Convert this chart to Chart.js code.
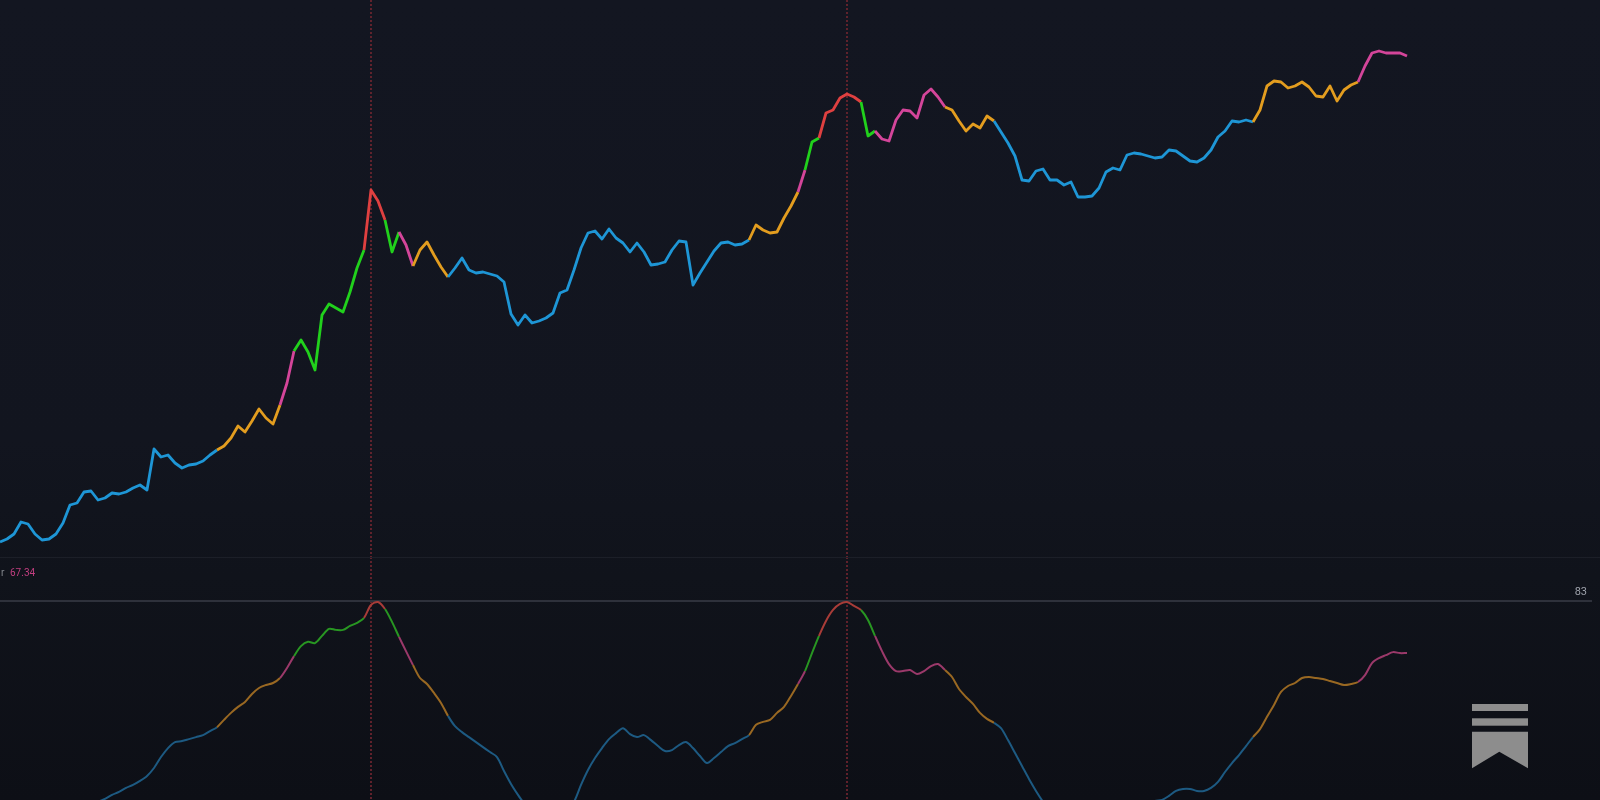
<!DOCTYPE html>
<html>
<head>
<meta charset="utf-8">
<title>Cycle oscillator</title>
<script src="https://cdn.jsdelivr.net/npm/chart.js@4.4.1/dist/chart.umd.min.js"></script>
<style>
  html, body { margin: 0; padding: 0; }
  body {
    width: 1600px; height: 800px; overflow: hidden; position: relative;
    background: linear-gradient(to bottom, #131621 0%, #12151f 55%, #10131b 72%, #0d0f16 100%);
  }
  #priceBox { position: absolute; left: 0; top: 0; width: 1600px; height: 557px; }
  #oscBox { position: absolute; left: 0; top: 557px; width: 1600px; height: 243px; }
  #logo { position: absolute; left: 1472px; top: 704px; }
</style>
</head>
<body>
<div id="priceBox"><canvas id="priceChart" width="1600" height="557"></canvas></div>
<div id="oscBox"><canvas id="oscChart" width="1600" height="243"></canvas></div>
<svg id="logo" width="56" height="65" viewBox="0 0 56 65">
  <rect x="0" y="0" width="56" height="7" fill="#8d8d8d"/>
  <rect x="0" y="14.3" width="56" height="7.4" fill="#8d8d8d"/>
  <path d="M0 27.7 H56 V64.3 L27.3 47.7 L0 64.3 Z" fill="#8d8d8d"/>
</svg>
<script>
// weekly price index (height units)
const priceIdx = [
  18, 21, 26, 38, 36, 26, 20, 21, 26, 37, 55, 57, 68, 69, 60, 62, 67, 66, 68, 72,
  75, 70, 111, 103, 105, 97, 92, 95, 96, 99, 105, 110, 114, 122, 134, 128, 139, 151, 142, 136,
  155, 177, 209, 220, 208, 190, 245, 256, 252, 248, 268, 292, 310, 370, 359, 340, 308, 328, 315, 294,
  310, 318, 305, 293, 283, 292, 302, 290, 287, 288, 286, 284, 278, 246, 235, 245, 237, 239, 242, 247,
  267, 270, 290, 312, 327, 329, 321, 331, 322, 317, 308, 317, 308, 295, 296, 298, 310, 319, 318, 275,
  287, 298, 309, 317, 318, 315, 316, 320, 335, 330, 327, 328, 342, 354, 368, 390, 418, 422, 447, 450,
  462, 466, 463, 458, 424, 429, 421, 419, 440, 450, 449, 442, 465, 471, 463, 453, 450, 439, 429, 436,
  432, 444, 439, 428, 417, 404, 380, 379, 389, 391, 380, 380, 375, 378, 363, 363, 364, 372, 388, 392,
  390, 405, 407, 406, 404, 402, 403, 410, 409, 404, 399, 398, 402, 410, 423, 429, 439, 438, 440, 438,
  450, 474, 479, 478, 472, 474, 478, 473, 464, 463, 474, 459, 470, 475, 478, 494, 507, 509, 507, 507,
  507, 504
];

// cycle oscillator, same weeks
const oscValue = [
  6.5, 7.4, 8.0, 8.6, 9.2, 10.1, 11.0, 12.2, 13.4, 14.9, 16.4, 18.2, 19.7, 21.3, 22.5, 23.4, 24.6, 25.5, 26.7, 27.6,
  28.8, 30.3, 32.7, 36.0, 38.7, 40.5, 40.8, 41.4, 42.0, 42.6, 43.8, 45.0, 47.2, 49.3, 51.1, 52.6, 55.0, 56.8, 57.7, 58.3,
  59.8, 62.8, 66.4, 69.4, 70.7, 70.3, 72.5, 74.6, 74.3, 74.3, 75.5, 76.4, 77.9, 81.8, 82.7, 80.6, 76.7, 72.2, 67.9, 63.7,
  59.8, 58.0, 55.3, 52.3, 48.4, 45.3, 43.5, 42.0, 40.5, 39.0, 37.5, 36.0, 31.8, 27.9, 24.6, 21.6, 18.5, 16.4, 15.5, 16.1,
  17.6, 20.0, 22.5, 27.6, 32.1, 35.7, 38.7, 41.4, 43.2, 44.7, 42.9, 42.0, 42.6, 41.1, 39.3, 37.8, 38.1, 39.6, 40.5, 38.7,
  36.3, 34.2, 35.7, 37.5, 39.3, 40.2, 41.4, 42.6, 45.7, 46.6, 47.2, 49.3, 51.1, 54.4, 58.0, 61.9, 67.3, 72.5, 77.0, 80.3,
  82.1, 82.7, 81.5, 80.3, 77.3, 72.5, 67.9, 64.0, 61.9, 61.9, 62.2, 61.0, 61.9, 63.4, 64.0, 62.2, 60.1, 56.5, 54.1, 52.0,
  49.3, 47.5, 46.3, 44.7, 41.1, 37.2, 33.3, 29.4, 25.8, 22.5, 19.4, 17.0, 15.2, 14.0, 13.1, 12.8, 12.8, 13.4, 14.3, 15.2,
  16.4, 17.6, 19.1, 20.7, 21.9, 22.8, 23.1, 24.3, 25.8, 26.4, 26.4, 25.8, 25.8, 26.7, 28.5, 31.5, 34.2, 36.6, 39.3, 42.0,
  44.4, 48.1, 51.7, 55.6, 57.4, 58.3, 59.8, 60.1, 59.8, 59.5, 58.9, 58.3, 57.7, 58.0, 58.6, 60.7, 64.3, 65.8, 66.7, 67.6,
  67.3, 67.34
];

// heat zones: week where each zone starts, and its band
const zoneStart = [0, 32, 41, 43, 53, 56, 58, 60, 65, 108, 115, 116, 118, 124, 126, 136, 143, 180, 195];
const zoneBand  = ['cool', 'warm', 'hot', 'ext', 'peak', 'ext', 'hot', 'warm', 'cool', 'warm',
                   'hot', 'ext', 'peak', 'ext', 'hot', 'warm', 'cool', 'warm', 'hot'];

const peakWeeks = [53, 121];
const oscLevel = 83;
const oscLabel = '67.34';

const priceColors = { cool: '#1e96d6', warm: '#e39d1f', hot: '#d4459a', ext: '#21d11c', peak: '#df4040' };
const oscColors   = { cool: '#1d5a82', warm: '#996822', hot: '#9b396a', ext: '#289622', peak: '#a83c38' };

function bandAt(i) {
  let b = zoneBand[0];
  for (let k = 0; k < zoneStart.length; k++) {
    if (i >= zoneStart[k]) b = zoneBand[k];
  }
  return b;
}

// dotted verticals at the two cycle tops
const peakGuides = {
  id: 'peakGuides',
  beforeDatasetsDraw(chart) {
    const { ctx } = chart;
    const x = chart.scales.x;
    ctx.save();
    ctx.strokeStyle = 'rgba(105, 36, 46, 0.9)';
    ctx.lineWidth = 2;
    ctx.setLineDash([2, 2]);
    peakWeeks.forEach(w => {
      const px = Math.round(x.getPixelForValue(w));
      ctx.beginPath();
      ctx.moveTo(px, 0);
      ctx.lineTo(px, chart.height);
      ctx.stroke();
    });
    ctx.restore();
  }
};

// separator, 83 level and legend text on the lower pane
const oscDecor = {
  id: 'oscDecor',
  beforeDatasetsDraw(chart) {
    const { ctx } = chart;
    const y = chart.scales.y;
    ctx.save();
    ctx.fillStyle = '#1c1f28';
    ctx.fillRect(0, 0, 1600, 1);
    const ly = Math.round(y.getPixelForValue(oscLevel));
    ctx.fillStyle = '#2e313b';
    ctx.fillRect(0, ly - 1, 1592, 2);
    ctx.font = '11px Roboto';
    ctx.textBaseline = 'middle';
    ctx.textAlign = 'right';
    ctx.fillStyle = '#9ea2ab';
    ctx.fillText(String(oscLevel), 1587, ly - 9);
    ctx.textAlign = 'left';
    ctx.font = '10px Roboto';
    ctx.fillStyle = '#85888f';
    ctx.fillText('r', 1, 16);
    ctx.fillStyle = '#c23f80';
    ctx.fillText(oscLabel, 10, 16);
    ctx.restore();
  }
};

const xAxis = { type: 'linear', min: 0, max: 1600 / 7, display: false };

new Chart(document.getElementById('priceChart'), {
  type: 'line',
  data: {
    datasets: [{
      data: priceIdx.map((v, i) => ({ x: i, y: v })),
      borderColor: priceColors.cool,
      borderWidth: 2.8,
      pointRadius: 0,
      tension: 0,
      borderJoinStyle: 'round',
      clip: false,
      segment: { borderColor: ctx => priceColors[bandAt(ctx.p1DataIndex)] }
    }]
  },
  options: {
    responsive: false,
    animation: false,
    layout: { padding: 0 },
    plugins: { legend: { display: false }, tooltip: { enabled: false } },
    scales: { x: xAxis, y: { min: 3, max: 560, display: false } }
  },
  plugins: [peakGuides]
});

new Chart(document.getElementById('oscChart'), {
  type: 'line',
  data: {
    datasets: [{
      data: oscValue.map((v, i) => ({ x: i, y: v })),
      borderColor: oscColors.cool,
      borderWidth: 2,
      pointRadius: 0,
      tension: 0.3,
      segment: { borderColor: ctx => oscColors[bandAt(ctx.p1DataIndex)] }
    }]
  },
  options: {
    responsive: false,
    animation: false,
    layout: { padding: 0 },
    plugins: { legend: { display: false }, tooltip: { enabled: false } },
    scales: { x: xAxis, y: { min: 23.06, max: 96.25, display: false } }
  },
  plugins: [peakGuides, oscDecor]
});
</script>
</body>
</html>
